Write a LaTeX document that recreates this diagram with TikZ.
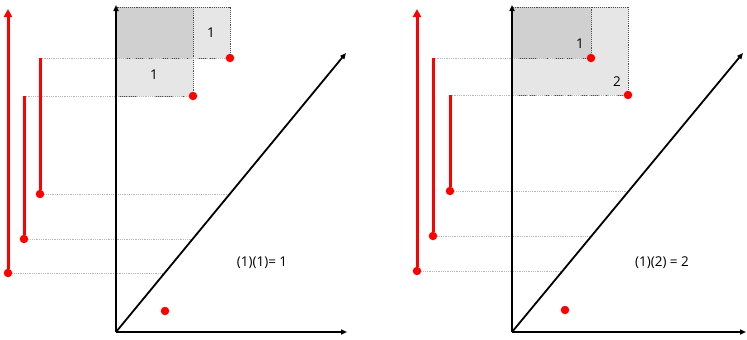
\documentclass[tikz,border=0pt]{standalone}
\usepackage{fontspec}
\setmainfont{Open Sans}
\usetikzlibrary{arrows.meta}

\definecolor{darkcell}{HTML}{D0D0D0}
\definecolor{lightcell}{HTML}{E6E6E6}

\tikzset{
  axis/.style={line width=1.8pt, -{Triangle[length=6pt,width=5pt]}},
  bar/.style={red, line width=3pt},
  lifebar/.style={bar, -{Triangle[length=8pt,width=8pt]}},
  dot/.style={circle, fill=red, inner sep=0pt, minimum size=8.5pt},
  guide/.style={black!28, densely dotted, line width=0.8pt},
  cell/.style={draw=black!70, densely dotted, line width=0.9pt},
  lbl/.style={font=\fontsize{13.5}{15}\selectfont, inner sep=1pt},
}

\begin{document}
\begin{tikzpicture}[x=1pt, y=-1pt]

\useasboundingbox (0,0) rectangle (747,340);

%%%%%%%%%% left panel

% cells
\draw [cell, fill=darkcell]  (116,7) rectangle (193,58);
\draw [cell, fill=lightcell] (193,7) rectangle (230,58);
\draw [cell, fill=lightcell] (116,58) rectangle (193,96);
\node [lbl] (c1a) at (211,33) {1};
\node [lbl] (c1b) at (154,75) {1};

% points
\node [dot] (p1a) at (230,58) {};
\node [dot] (p1b) at (193,96) {};
\node [dot] (p1c) at (165,311) {};

% bars
\node [dot] (b1a) at (40,194) {};
\node [dot] (b1b) at (24,239) {};
\node [dot] (b1c) at (8,273) {};
\coordinate (t1a) at (40,58);
\coordinate (t1b) at (24,96);
\coordinate (t1c) at (8,9);

% guide lines
\coordinate (g1a) at (230,194);
\coordinate (g1b) at (193,239);
\coordinate (g1c) at (165,273);
\draw [guide] (t1a) -- (p1a);
\draw [guide] (t1b) -- (p1b);
\draw [guide] (b1a) -- (g1a);
\draw [guide] (b1b) -- (g1b);
\draw [guide] (b1c) -- (g1c);

% axes
\coordinate (O1) at (116,332);
\coordinate (Y1) at (116,5);
\coordinate (X1) at (347,332);
\coordinate (D1) at (346,53);
\draw [axis] (O1) -- (Y1);
\draw [axis] (O1) -- (X1);
\draw [axis] (O1) -- (D1);

\draw [bar] (b1a) -- (t1a);
\draw [bar] (b1b) -- (t1b);
\draw [lifebar] (b1c) -- (t1c);

\node [lbl] (r1) at (262,263) {(1)(1)= 1};

%%%%%%%%%% right panel

% cells
\draw [cell, fill=lightcell] (512,7) rectangle (628,95);
\draw [cell, fill=darkcell]  (512,7) rectangle (591,58);
\node [lbl] (c2a) at (580,44) {1};
\node [lbl] (c2b) at (617,82) {2};

% points
\node [dot] (p2a) at (591,58) {};
\node [dot] (p2b) at (628,95) {};
\node [dot] (p2c) at (565,310) {};

% bars
\node [dot] (b2a) at (450,191) {};
\node [dot] (b2b) at (433,236) {};
\node [dot] (b2c) at (417,271) {};
\coordinate (t2a) at (450,95);
\coordinate (t2b) at (433,58);
\coordinate (t2c) at (417,9);

% guide lines
\coordinate (g2a) at (628,191);
\coordinate (g2b) at (591,236);
\coordinate (g2c) at (563,271);
\draw [guide] (t2a) -- (p2b);
\draw [guide] (t2b) -- (p2a);
\draw [guide] (b2a) -- (g2a);
\draw [guide] (b2b) -- (g2b);
\draw [guide] (b2c) -- (g2c);

% axes
\coordinate (O2) at (512,332);
\coordinate (Y2) at (512,5);
\coordinate (X2) at (746,332);
\coordinate (D2) at (743,53);
\draw [axis] (O2) -- (Y2);
\draw [axis] (O2) -- (X2);
\draw [axis] (O2) -- (D2);

\draw [bar] (b2a) -- (t2a);
\draw [bar] (b2b) -- (t2b);
\draw [lifebar] (b2c) -- (t2c);

\node [lbl] (r2) at (662,263) {(1)(2) = 2};

\end{tikzpicture}
\end{document}
